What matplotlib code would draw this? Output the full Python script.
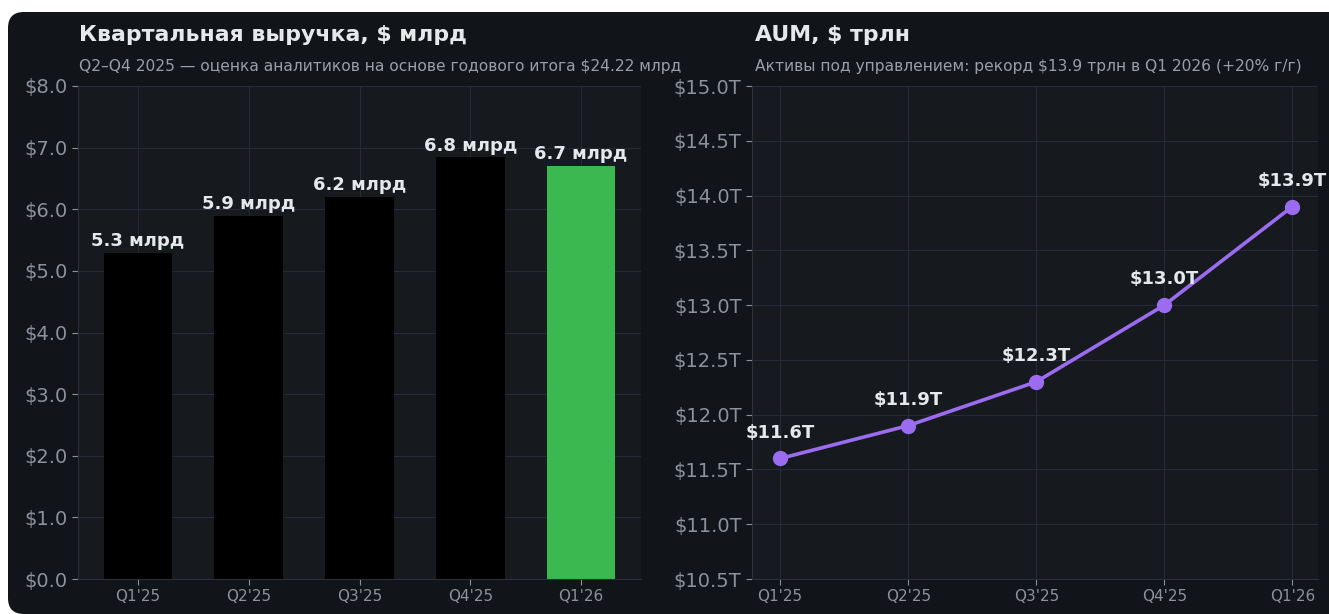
import matplotlib.pyplot as plt
from matplotlib.patches import FancyBboxPatch

# data
quarters = ["Q1'25", "Q2'25", "Q3'25", "Q4'25", "Q1'26"]
revenue = [5.29, 5.89, 6.2, 6.84, 6.7]
bar_colors = ['#000000', '#000000', '#000000', '#000000', '#3cb851']
aum = [11.6, 11.9, 12.3, 13.0, 13.9]

rev_ticks = [0, 1, 2, 3, 4, 5, 6, 7, 8]
aum_ticks = [10.5, 11.0, 11.5, 12.0, 12.5, 13.0, 13.5, 14.0, 14.5, 15.0]

BG = '#111418'
AX_BG = '#161a1f'
GRID = '#252a36'
TICK = '#8c929b'
TXT = '#e6e8eb'
SUB = '#9a9fa6'
PURPLE = '#9b6cf0'

W, H = 1329, 614
fig = plt.figure(figsize=(W / 100, H / 100), dpi=100, facecolor='white')

# dark rounded card
card = FancyBboxPatch((8 / W, 0), (W + 40) / W, 602 / H,
                      boxstyle='round,pad=0,rounding_size=0.012',
                      transform=fig.transFigure, facecolor=BG,
                      edgecolor='none', zorder=-5, mutation_aspect=W / H)
fig.patches.append(card)


def style(ax):
    ax.set_zorder(2)
    ax.set_facecolor(AX_BG)
    for s in ['top', 'right']:
        ax.spines[s].set_visible(False)
    for s in ['left', 'bottom']:
        ax.spines[s].set_color('#2a2f3a')
    ax.grid(True, color=GRID, linewidth=0.8)
    ax.set_axisbelow(True)
    ax.tick_params(axis='y', colors=TICK, labelsize=14, length=4)
    ax.tick_params(axis='x', colors=TICK, labelsize=11, length=4)


# left: revenue bars
ax1 = fig.add_axes([78 / W, 35 / H, 563 / W, 493 / H])
style(ax1)
x = list(range(len(quarters)))
ax1.bar(x, revenue, width=0.62, color=bar_colors, zorder=2)
ax1.set_ylim(0, 8)
ax1.set_yticks(rev_ticks)
ax1.set_yticklabels([f'${v:.1f}' for v in rev_ticks])
ax1.set_xticks(x)
ax1.set_xticklabels(quarters)
for xi, v in zip(x, revenue):
    ax1.annotate(f'{v:.1f} млрд', (xi, v), xytext=(0, 2), textcoords='offset points',
                 ha='center', va='bottom', color=TXT, fontsize=13, fontweight='bold')

fig.text(79 / W, 1 - 35 / H, 'Квартальная выручка, $ млрд', color=TXT,
         fontsize=15.8, fontweight='bold', va='center', ha='left', zorder=3)
fig.text(79 / W, 1 - 66 / H, 'Q2–Q4 2025 — оценка аналитиков на основе годового итога $24.22 млрд',
         color=SUB, fontsize=11.2, va='center', ha='left', zorder=3)

# right: AUM line
ax2 = fig.add_axes([752 / W, 35 / H, 566 / W, 493 / H])
style(ax2)
ax2.plot(x, aum, color=PURPLE, linewidth=2.6, marker='o', markersize=10, zorder=3)
ax2.set_ylim(10.5, 15.0)
ax2.set_xlim(-0.22, 4.2)
ax2.set_yticks(aum_ticks)
ax2.set_yticklabels([f'${v:.1f}T' for v in aum_ticks])
ax2.set_xticks(x)
ax2.set_xticklabels(quarters)
for xi, v in zip(x, aum):
    ax2.annotate(f'${v:.1f}T', (xi, v), xytext=(0, 12), textcoords='offset points',
                 ha='center', va='bottom', color=TXT, fontsize=13, fontweight='bold',
                 annotation_clip=False)

fig.text(755 / W, 1 - 35 / H, 'AUM, $ трлн', color=TXT,
         fontsize=15.8, fontweight='bold', va='center', ha='left', zorder=3)
fig.text(755 / W, 1 - 66 / H, 'Активы под управлением: рекорд $13.9 трлн в Q1 2026 (+20% г/г)',
         color=SUB, fontsize=11.2, va='center', ha='left', zorder=3)

fig.savefig('out.png', dpi=100, facecolor=fig.get_facecolor())
